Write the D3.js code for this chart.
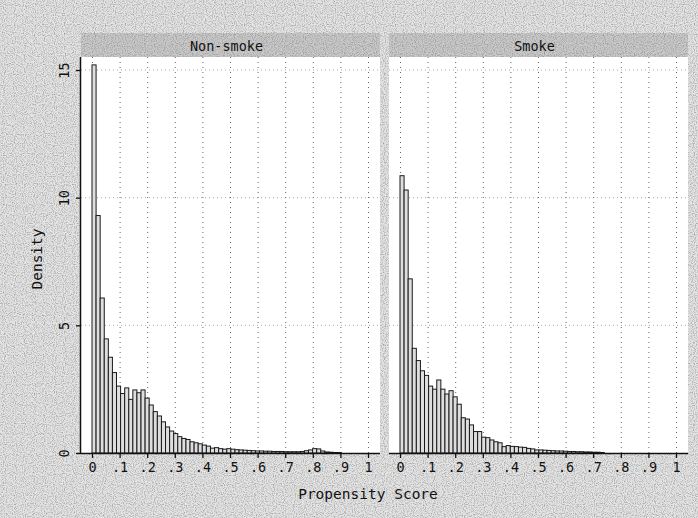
<!DOCTYPE html>
<html>
<head>
<meta charset="utf-8">
<script src="https://cdn.jsdelivr.net/npm/d3@7"></script>
<style>
  body { margin: 0; background: #fff; }
  svg { display: block; }
  text { font-family: "DejaVu Sans Mono", "Liberation Mono", monospace; fill: #111; }
</style>
</head>
<body>
<svg id="chart" width="698" height="518"></svg>
<script>
// histogram of the propensity score, one panel per group (density per bin)
const binWidth = 0.0148;
const panelNames = ["Non-smoke", "Smoke"];

const nonSmoke = [
  15.2, 9.3, 6.07, 4.47, 3.75, 3.15, 2.62, 2.33, 2.55, 2.10,
  2.47, 2.36, 2.47, 2.15, 1.88, 1.62, 1.45, 1.22, 1.02, 0.86,
  0.76, 0.64, 0.57, 0.53, 0.44, 0.40, 0.36, 0.31, 0.27, 0.19,
  0.21, 0.17, 0.15, 0.17, 0.15, 0.13, 0.12, 0.11, 0.10, 0.09,
  0.08, 0.08, 0.07, 0.07, 0.06, 0.06, 0.06, 0.05, 0.05, 0.05,
  0.05, 0.06, 0.09, 0.12, 0.17, 0.16, 0.08, 0.04, 0.03, 0.02,
  0.02
];
const smoke = [
  10.86, 10.3, 6.82, 4.10, 3.62, 3.22, 3.04, 2.62, 2.50, 2.86,
  2.50, 2.31, 2.44, 2.20, 1.91, 1.38, 1.33, 1.10, 0.84, 0.84,
  0.62, 0.60, 0.51, 0.44, 0.40, 0.25, 0.29, 0.26, 0.25, 0.23,
  0.22, 0.18, 0.16, 0.12, 0.12, 0.11, 0.10, 0.09, 0.08, 0.08,
  0.07, 0.06, 0.06, 0.05, 0.05, 0.04, 0.04, 0.03, 0.03, 0.02
];
const seriesList = [nonSmoke, smoke];

const xTicks = [0, 0.1, 0.2, 0.3, 0.4, 0.5, 0.6, 0.7, 0.8, 0.9, 1];
const xTickLabels = ["0", ".1", ".2", ".3", ".4", ".5", ".6", ".7", ".8", ".9", "1"];
const yTicks = [0, 5, 10, 15];

const svg = d3.select("#chart");
const W = 698, H = 518;

// scanned-paper look: grey base with grain
const defs = svg.append("defs");
const grain = defs.append("filter").attr("id", "grain")
  .attr("x", 0).attr("y", 0).attr("width", "100%").attr("height", "100%");
grain.append("feTurbulence").attr("type", "fractalNoise")
  .attr("baseFrequency", 0.9).attr("numOctaves", 1).attr("seed", 4);
grain.append("feColorMatrix").attr("type", "matrix")
  .attr("values", "0 0 0 0 0  0 0 0 0 0  0 0 0 0 0  -2.2 0 0 0 1.25");

svg.append("rect").attr("width", W).attr("height", H).attr("fill", "#e4e4e4");
svg.append("rect").attr("width", W).attr("height", H)
  .attr("filter", "url(#grain)").attr("opacity", 0.35);

const panelTop = 57, panelBottom = 453, panelW = 299;
const panelX = [81, 389];
const stripTop = 33;

const y = d3.scaleLinear().domain([0, 15]).range([panelBottom, 70]);

panelNames.forEach((name, p) => {
  const x0 = panelX[p];
  const x = d3.scaleLinear().domain([0, 1]).range([x0 + 11, x0 + 287]);
  const g = svg.append("g");

  // strip header
  g.append("rect").attr("x", x0).attr("y", stripTop)
    .attr("width", panelW).attr("height", panelTop - stripTop)
    .attr("fill", "#c9c9c9");
  g.append("rect").attr("x", x0).attr("y", stripTop)
    .attr("width", panelW).attr("height", panelTop - stripTop)
    .attr("filter", "url(#grain)").attr("opacity", 0.3);
  g.append("text")
    .attr("x", x0 + panelW / 2 - 4).attr("y", 51)
    .attr("text-anchor", "middle")
    .style("font-size", "13.5px")
    .text(name);

  // plot region
  g.append("rect").attr("x", x0).attr("y", panelTop)
    .attr("width", panelW).attr("height", panelBottom - panelTop)
    .attr("fill", "#ffffff");

  // grid
  g.selectAll(".hgrid").data(yTicks.slice(1)).enter().append("line")
    .attr("x1", x0).attr("x2", x0 + panelW)
    .attr("y1", d => y(d)).attr("y2", d => y(d))
    .attr("stroke", "#aaa").attr("stroke-width", 1)
    .attr("stroke-dasharray", "1,3");
  g.selectAll(".vgrid").data(xTicks).enter().append("line")
    .attr("x1", d => x(d) + 0.5).attr("x2", d => x(d) + 0.5)
    .attr("y1", panelTop).attr("y2", panelBottom)
    .attr("stroke", "#666").attr("stroke-width", 1)
    .attr("stroke-dasharray", "1,4");

  // bars
  g.selectAll(".bar").data(seriesList[p]).enter().append("rect")
    .attr("x", (d, i) => x(i * binWidth))
    .attr("y", d => y(d))
    .attr("width", (d, i) => x((i + 1) * binWidth) - x(i * binWidth))
    .attr("height", d => y(0) - y(d))
    .attr("fill", "#dedede")
    .attr("stroke", "#1a1a1a")
    .attr("stroke-width", 1);

  // x axis
  const xAxis = d3.axisBottom(x).tickValues(xTicks)
    .tickFormat((d, i) => xTickLabels[i]).tickSize(5).tickPadding(4);
  const ax = g.append("g").attr("transform", `translate(0,${panelBottom})`).call(xAxis);
  ax.select(".domain").attr("d", `M${x0},0.5H${x0 + panelW}`).attr("stroke", "#111").attr("stroke-width", 1.5);
  ax.selectAll(".tick line").attr("stroke", "#111").attr("stroke-width", 1.3);
  ax.selectAll(".tick text").style("font-size", "13.5px")
    .style("font-family", "DejaVu Sans Mono, monospace").attr("fill", "#111");
});

// y axis on the left panel only
const yAxis = d3.axisLeft(y).tickValues(yTicks).tickSize(5).tickFormat(d3.format("d"));
const ay = svg.append("g").attr("transform", `translate(${panelX[0]},0)`).call(yAxis);
ay.select(".domain").attr("d", `M-0.5,${panelTop}V${panelBottom}`).attr("stroke", "#111").attr("stroke-width", 1.5);
ay.selectAll(".tick line").attr("stroke", "#111").attr("stroke-width", 1.3);
ay.selectAll(".tick text")
  .attr("x", null).attr("dy", null)
  .attr("transform", "translate(-12,0) rotate(-90)")
  .attr("text-anchor", "middle")
  .style("font-size", "13.5px")
  .style("font-family", "DejaVu Sans Mono, monospace").attr("fill", "#111");

// axis titles
svg.append("text")
  .attr("transform", "translate(42,259) rotate(-90)")
  .attr("text-anchor", "middle")
  .style("font-size", "14.5px")
  .text("Density");

svg.append("text")
  .attr("x", 368).attr("y", 499)
  .attr("text-anchor", "middle")
  .style("font-size", "14.5px")
  .text("Propensity Score");
</script>
</body>
</html>
